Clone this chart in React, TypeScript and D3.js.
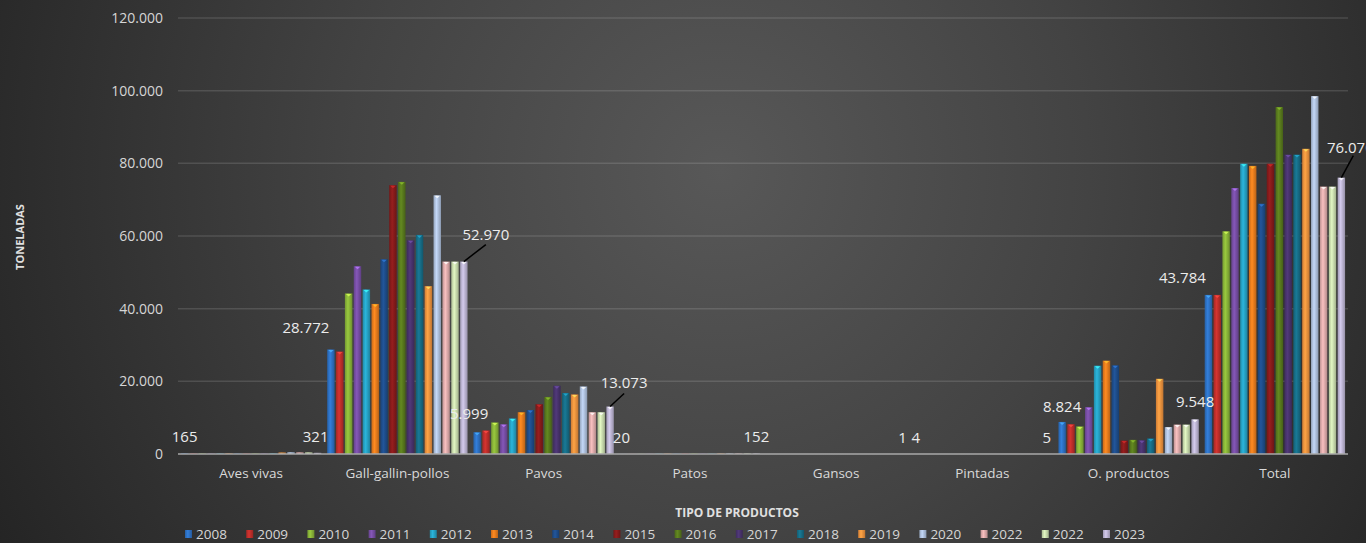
import React from "react";
import * as d3 from "d3";

const categories = ["Aves vivas", "Gall-gallin-pollos", "Pavos", "Patos", "Gansos", "Pintadas", "O. productos", "Total"];
const years = ["2008", "2009", "2010", "2011", "2012", "2013", "2014", "2015", "2016", "2017", "2018", "2019", "2020", "2022", "2022", "2023"];

const avesVivas = [165, 140, 120, 110, 130, 150, 170, 160, 180, 200, 250, 420, 480, 450, 450, 321];
const gallGallinPollos = [28772, 28200, 44200, 51700, 45300, 41300, 53600, 74000, 74900, 58800, 60300, 46200, 71200, 52970, 52970, 52970];
const pavos = [5999, 6500, 8700, 8200, 9800, 11500, 12100, 13700, 15700, 18800, 16800, 16400, 18600, 11500, 11500, 13073];
const patos = [20, 30, 40, 60, 80, 100, 120, 140, 160, 150, 130, 140, 150, 150, 150, 152];
const gansos = [0, 0, 0, 1, 1, 2, 2, 1, 1, 1, 1, 1, 1, 1, 1, 1];
const pintadas = [4, 4, 5, 5, 6, 6, 5, 5, 5, 5, 5, 5, 5, 5, 5, 5];
const oProductos = [8824, 8200, 7600, 12900, 24300, 25700, 24400, 3700, 3900, 3800, 4300, 20700, 7400, 8100, 8100, 9548];
const total = [43784, 43784, 61300, 73200, 79900, 79300, 68900, 79900, 95500, 82400, 82400, 84000, 98500, 73600, 73600, 76070];

const categoryValues = [avesVivas, gallGallinPollos, pavos, patos, gansos, pintadas, oProductos, total];
const yTicks = [0, 20000, 40000, 60000, 80000, 100000, 120000];

const seriesColors = ["#2f74c8", "#c3302c", "#8cb83a", "#7a50a8", "#27a6c9", "#f07f1e", "#1f4f8e", "#8a1b1b", "#5b7d1e", "#4a3470", "#17708a", "#f8963f", "#b3c6e3", "#e4b0b0", "#cfe2b2", "#c2bad9"];

// labelled points: [category index, series index, dx, dy, leader dx, leader dy]
const labelSpecs: [number, number, number, number, number, number][] = [
  [0, 0, 0, -11, 0, 0],
  [0, 15, -2, -11, 0, 0],
  [1, 0, -25, -16, 0, 0],
  [1, 15, 22, -22, 22, -17],
  [2, 0, -8, -13, 0, 0],
  [2, 15, 14, -19, 14, -13],
  [3, 0, -2, -11, 0, 0],
  [3, 15, 0, -11, 0, 0],
  [4, 15, 0, -11, 0, 0],
  [5, 0, 0, -11, 0, 0],
  [5, 15, -2, -11, 0, 0],
  [6, 0, 0, -10, 0, 0],
  [6, 15, 0, -12, 0, 0],
  [7, 0, -26, -12, 0, 0],
  [7, 15, 9, -25, 12, -22],
];

const W = 1366;
const H = 543;
const FONT = "'Open Sans', 'DejaVu Sans', sans-serif";
const fmt = d3.formatLocale({ decimal: ",", thousands: ".", grouping: [3], currency: ["", "€"] }).format(",d");

export default function App() {
  const x0 = d3.scaleBand<string>().domain(categories).range([178, 1348]).paddingInner(0.04).paddingOuter(0.02);
  const x1 = d3.scaleBand<number>().domain(d3.range(years.length)).range([0, x0.bandwidth()]).paddingInner(0.16);
  const y = d3.scaleLinear().domain([0, 120000]).range([454, 18]);

  const barX = (ci: number, si: number) => (x0(categories[ci]) as number) + (x1(si) as number);

  return (
    <svg width={W} height={H} style={{ position: "absolute", left: 0, top: 0, display: "block" }} fontFamily={FONT}>
      <defs>
        <radialGradient id="bg" gradientUnits="userSpaceOnUse" cx={720} cy={170} r={820}>
          <stop offset="0" stopColor="#585858" />
          <stop offset="0.45" stopColor="#434343" />
          <stop offset="1" stopColor="#242424" />
        </radialGradient>
        {seriesColors.map((c, i) => {
          const base = d3.color(c)!;
          return (
            <linearGradient key={i} id={`g${i}`} x1="0" x2="1" y1="0" y2="0">
              <stop offset="0" stopColor={base.darker(0.5).formatHex()} />
              <stop offset="0.4" stopColor={base.brighter(0.25).formatHex()} />
              <stop offset="1" stopColor={base.darker(0.7).formatHex()} />
            </linearGradient>
          );
        })}
      </defs>
      <rect x={0} y={0} width={W} height={H} fill="url(#bg)" />

      {yTicks.map((t) => (
        <g key={t}>
          {t > 0 && <line x1={178} x2={1348} y1={y(t)} y2={y(t)} stroke="#ffffff" strokeOpacity={0.13} strokeWidth={1.5} />}
          <text x={163} y={y(t) + 5} textAnchor="end" fontSize={14} fill="#d6d6d6">{fmt(t)}</text>
        </g>
      ))}

      {categoryValues.map((vals, ci) =>
        vals.map((v, si) => {
          const bx = barX(ci, si);
          const by = y(v);
          const bh = y(0) - by;
          const bw = x1.bandwidth();
          return (
            <g key={`${ci}-${si}`}>
              <rect x={bx} y={by} width={bw} height={bh} fill={`url(#g${si})`} />
              {bh > 3 && (
                <path d={`M${bx + 1},${by + 0.5} L${bx + bw - 1},${by + 0.5} L${bx + bw / 2},${by + 3} Z`} fill={d3.color(seriesColors[si])!.brighter(1.2).formatHex()} opacity={0.8} />
              )}
            </g>
          );
        })
      )}

      <line x1={178} x2={1348} y1={y(0)} y2={y(0)} stroke="#a8a8a8" strokeWidth={1.5} />

      {labelSpecs.map(([ci, si, dx, dy, lx, ly], i) => {
        const v = categoryValues[ci][si];
        const cx = barX(ci, si) + x1.bandwidth() / 2;
        const top = y(v);
        return (
          <g key={i}>
            {(lx !== 0 || ly !== 0) && <line x1={cx} y1={top} x2={cx + lx} y2={top + ly} stroke="#000000" strokeWidth={1.5} />}
            <text x={cx + dx} y={top + dy} textAnchor="middle" fontSize={15} fill="#ececec">{fmt(v)}</text>
          </g>
        );
      })}

      {categories.map((c) => (
        <text key={c} x={(x0(c) as number) + x0.bandwidth() / 2} y={478} textAnchor="middle" fontSize={13.5} fill="#d9d9d9">{c}</text>
      ))}

      <text x={737} y={517} textAnchor="middle" fontSize={12} fontWeight="bold" fill="#e0e0e0">TIPO DE PRODUCTOS</text>
      <text transform="translate(24,237) rotate(-90)" textAnchor="middle" fontSize={11} fontWeight="bold" fill="#e0e0e0">TONELADAS</text>

      {years.map((yr, i) => {
        const lx = 185 + i * 61.2;
        return (
          <g key={i}>
            <rect x={lx} y={530} width={7} height={8} fill={`url(#g${i})`} />
            <text x={lx + 11} y={539} fontSize={13.5} fill="#d6d6d6">{yr}</text>
          </g>
        );
      })}
    </svg>
  );
}
